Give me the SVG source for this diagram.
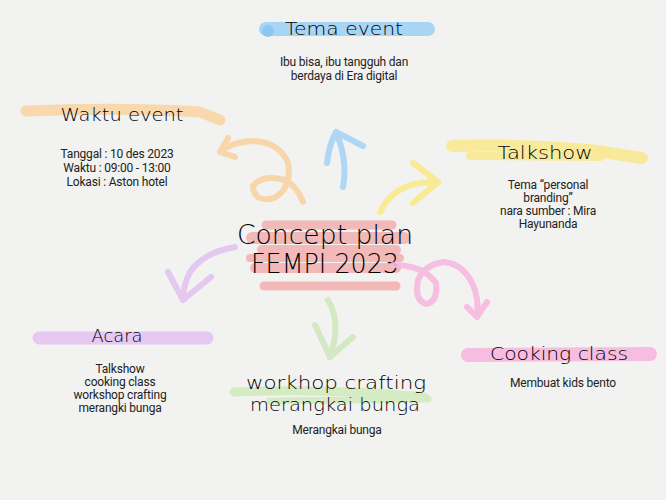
<svg xmlns="http://www.w3.org/2000/svg" width="666" height="500" viewBox="0 0 666 500">
<style>
.hand{font-family:"DejaVu Sans","Liberation Sans",sans-serif;font-weight:200;fill:#000;text-anchor:middle}
.body{font-family:"Roboto","Liberation Sans",sans-serif;font-size:12px;fill:#222;text-anchor:middle;letter-spacing:-0.2px}
.bar{fill:none;stroke-linecap:round;stroke-linejoin:round}
.arrow{fill:none;stroke-width:6;stroke-linecap:round;stroke-linejoin:round;opacity:0.9}
</style>
<rect width="666" height="500" fill="#f2f2f0"/>
<g id="tema-event">
<path class="bar" d="M266 29 L428 29" stroke="#a9d5f5" stroke-width="14"/>
<circle cx="268" cy="31" r="6" fill="#8cc6f2"/>
<text class="hand" x="344" y="35" font-size="18" textLength="118" lengthAdjust="spacingAndGlyphs">Tema event</text>
<text class="body" x="344" y="66">Ibu bisa, ibu tangguh dan</text>
<text class="body" x="344" y="80">berdaya di Era digital</text>
</g>
<g id="waktu-event">
<path class="bar" d="M26 111 Q120 107 200 112 L220 120" stroke="#f8d8ac" stroke-width="11"/>
<text class="hand" x="122" y="121" font-size="18" textLength="123" lengthAdjust="spacingAndGlyphs">Waktu event</text>
<text class="body" x="117" y="158">Tanggal : 10 des 2023</text>
<text class="body" x="117" y="172">Waktu : 09:00 - 13:00</text>
<text class="body" x="117" y="186">Lokasi : Aston hotel</text>
</g>
<g id="talkshow">
<path class="bar" d="M452 146 Q520 144 590 150 L642 158" stroke="#f8ea9a" stroke-width="12"/>
<path class="bar" d="M470 156 L600 157" stroke="#f8ea9a" stroke-width="8"/>
<text class="hand" x="545" y="159" font-size="18" textLength="95" lengthAdjust="spacingAndGlyphs">Talkshow</text>
<text class="body" x="548" y="189">Tema “personal</text>
<text class="body" x="548" y="202">branding”</text>
<text class="body" x="548" y="215">nara sumber : Mira</text>
<text class="body" x="548" y="228">Hayunanda</text>
</g>
<g id="concept-plan">
<g class="bar" stroke="#f4b0b0" opacity="0.85">
<path d="M266 225 L392 225" stroke-width="9"/>
<path d="M252 238 L404 238" stroke-width="12"/>
<path d="M262 250 L396 250" stroke-width="10"/>
<path d="M250 258 L400 258" stroke-width="8"/>
<path d="M255 268 L396 268" stroke-width="10"/>
<path d="M264 286 L366 286" stroke-width="9"/>
<path d="M370 286 L396 286" stroke-width="9"/>
</g>
<text class="hand" x="325" y="244" font-size="26" textLength="176" lengthAdjust="spacingAndGlyphs">Concept plan</text>
<text class="hand" x="325" y="273" font-size="26" textLength="148" lengthAdjust="spacingAndGlyphs">FEMPI 2023</text>
</g>
<g id="acara">
<path class="bar" d="M39 338 L207 338" stroke="#e6c8f2" stroke-width="13"/>
<text class="hand" x="117" y="342" font-size="17" textLength="51" lengthAdjust="spacingAndGlyphs">Acara</text>
<text class="body" x="120" y="373">Talkshow</text>
<text class="body" x="120" y="386">cooking class</text>
<text class="body" x="120" y="399">workshop crafting</text>
<text class="body" x="120" y="412">merangki bunga</text>
</g>
<g id="workshop">
<path class="bar" d="M234 392 Q330 388 424 397" stroke="#d4ebc4" stroke-width="9"/>
<path class="bar" d="M270 401 L428 399" stroke="#d4ebc4" stroke-width="7"/>
<text class="hand" x="336" y="389" font-size="18" textLength="180" lengthAdjust="spacingAndGlyphs">workhop crafting</text>
<text class="hand" x="335" y="411" font-size="18" textLength="170" lengthAdjust="spacingAndGlyphs">merangkai bunga</text>
<text class="body" x="337" y="434">Merangkai bunga</text>
</g>
<g id="cooking-class">
<path class="bar" d="M468 355 L650 354" stroke="#f7bde0" stroke-width="14"/>
<text class="hand" x="559" y="360" font-size="18" textLength="138" lengthAdjust="spacingAndGlyphs">Cooking class</text>
<text class="body" x="563" y="387">Membuat kids bento</text>
</g>
<g id="connectors">
<path class="arrow" stroke="#a6d3f6" d="M343 187 Q348 160 336 132 M327 163 Q329 145 336 132 L363 146"/>
<path class="arrow" stroke="#f9e98a" d="M380 212 Q395 180 438 182 M413 163 L438 182 L413 203"/>
<path class="arrow" stroke="#f8d3a4" d="M303 202 Q297 186 285 180 Q262 174 253 186 Q254 203 274 198 Q292 188 288 163 Q280 143 255 141 Q233 141 220 152 M228 138 L220 152 L235 157"/>
<path class="arrow" stroke="#e2c3f0" d="M235 247 Q204 252 190 272 Q183 286 183 300 M168 272 L183 300 L211 277"/>
<path class="arrow" stroke="#f6b8df" d="M393 265 Q423 265 436 283 Q438 302 426 304 Q414 300 418 280 Q425 264 445 262 Q466 265 475 290 Q479 305 477 317 M467 307 L477 317 L487 302"/>
<path class="arrow" stroke="#cfe8bf" d="M328 300 Q342 323 330 357 M315 325 L330 357 L353 337"/>
</g>
</svg>
